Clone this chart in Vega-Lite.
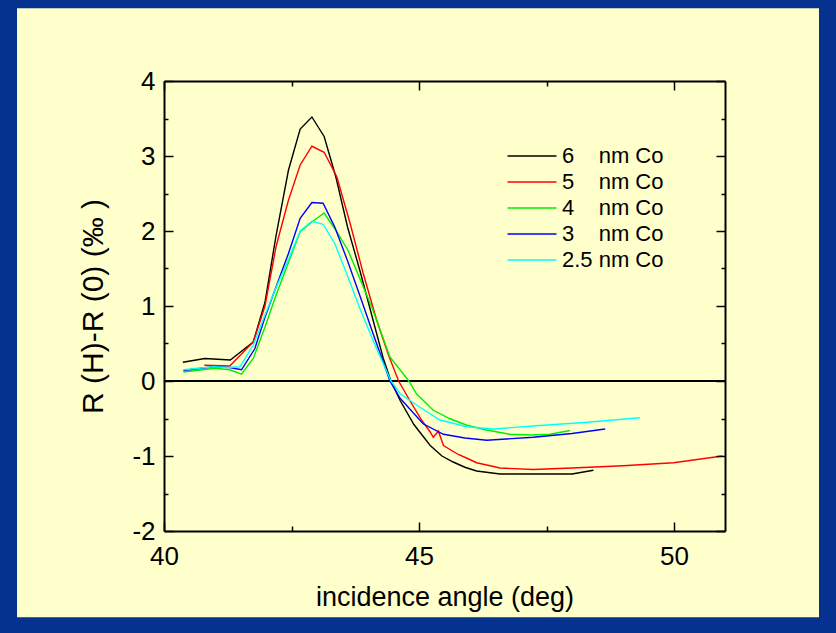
{
  "$schema": "https://vega.github.io/schema/vega-lite/v6.json",
  "width": 561,
  "height": 450,
  "autosize": "none",
  "padding": {"left": 164, "top": 81, "right": 111, "bottom": 102},
  "background": "#05318F",
  "config": {
    "view": {"stroke": null},
    "font": "Liberation Sans",
    "axis": {
      "grid": false,
      "domainColor": "#000000",
      "domainWidth": 2,
      "tickColor": "#000000",
      "tickWidth": 1.5,
      "labelColor": "#000000",
      "titleColor": "#000000",
      "labelFont": "Liberation Sans",
      "titleFont": "Liberation Sans",
      "labelFontSize": 26,
      "titleFontSize": 27,
      "titleFontWeight": "normal",
      "labelFlush": false
    }
  },
  "datasets": {
    "curves": [
      {"film": "6", "angle": 40.37, "dR": 0.25},
      {"film": "6", "angle": 40.8, "dR": 0.3},
      {"film": "6", "angle": 41.3, "dR": 0.28},
      {"film": "6", "angle": 41.75, "dR": 0.52},
      {"film": "6", "angle": 41.98, "dR": 1.05},
      {"film": "6", "angle": 42.2, "dR": 1.95},
      {"film": "6", "angle": 42.44, "dR": 2.81},
      {"film": "6", "angle": 42.67, "dR": 3.36},
      {"film": "6", "angle": 42.9, "dR": 3.52},
      {"film": "6", "angle": 43.14, "dR": 3.26},
      {"film": "6", "angle": 43.37, "dR": 2.72},
      {"film": "6", "angle": 43.6, "dR": 2.05},
      {"film": "6", "angle": 43.85, "dR": 1.45},
      {"film": "6", "angle": 44.1, "dR": 0.81},
      {"film": "6", "angle": 44.3, "dR": 0.3},
      {"film": "6", "angle": 44.45, "dR": 0.0},
      {"film": "6", "angle": 44.63, "dR": -0.26},
      {"film": "6", "angle": 44.9, "dR": -0.58},
      {"film": "6", "angle": 45.22, "dR": -0.86},
      {"film": "6", "angle": 45.45, "dR": -1.0},
      {"film": "6", "angle": 45.67, "dR": -1.08},
      {"film": "6", "angle": 45.9, "dR": -1.15},
      {"film": "6", "angle": 46.13, "dR": -1.2},
      {"film": "6", "angle": 46.59, "dR": -1.24},
      {"film": "6", "angle": 47.2, "dR": -1.24},
      {"film": "6", "angle": 48.0, "dR": -1.24},
      {"film": "6", "angle": 48.42, "dR": -1.19},

      {"film": "5", "angle": 40.79, "dR": 0.21},
      {"film": "5", "angle": 41.29, "dR": 0.2},
      {"film": "5", "angle": 41.75, "dR": 0.52},
      {"film": "5", "angle": 41.98, "dR": 1.0},
      {"film": "5", "angle": 42.2, "dR": 1.8},
      {"film": "5", "angle": 42.44, "dR": 2.41},
      {"film": "5", "angle": 42.67, "dR": 2.88},
      {"film": "5", "angle": 42.9, "dR": 3.13},
      {"film": "5", "angle": 43.14, "dR": 3.05},
      {"film": "5", "angle": 43.39, "dR": 2.72},
      {"film": "5", "angle": 43.65, "dR": 2.1},
      {"film": "5", "angle": 43.9, "dR": 1.45},
      {"film": "5", "angle": 44.17, "dR": 0.81},
      {"film": "5", "angle": 44.4, "dR": 0.35},
      {"film": "5", "angle": 44.6, "dR": 0.0},
      {"film": "5", "angle": 44.82, "dR": -0.26},
      {"film": "5", "angle": 45.05, "dR": -0.52},
      {"film": "5", "angle": 45.22, "dR": -0.68},
      {"film": "5", "angle": 45.28, "dR": -0.75},
      {"film": "5", "angle": 45.38, "dR": -0.67},
      {"film": "5", "angle": 45.48, "dR": -0.86},
      {"film": "5", "angle": 45.77, "dR": -0.98},
      {"film": "5", "angle": 45.94, "dR": -1.03},
      {"film": "5", "angle": 46.13, "dR": -1.09},
      {"film": "5", "angle": 46.59, "dR": -1.16},
      {"film": "5", "angle": 47.24, "dR": -1.18},
      {"film": "5", "angle": 48.0, "dR": -1.16},
      {"film": "5", "angle": 49.0, "dR": -1.13},
      {"film": "5", "angle": 49.99, "dR": -1.09},
      {"film": "5", "angle": 50.95, "dR": -1.0},

      {"film": "4", "angle": 40.38, "dR": 0.12},
      {"film": "4", "angle": 41.0, "dR": 0.17},
      {"film": "4", "angle": 41.29, "dR": 0.15},
      {"film": "4", "angle": 41.52, "dR": 0.09},
      {"film": "4", "angle": 41.75, "dR": 0.3},
      {"film": "4", "angle": 41.98, "dR": 0.72},
      {"film": "4", "angle": 42.2, "dR": 1.15},
      {"film": "4", "angle": 42.44, "dR": 1.58},
      {"film": "4", "angle": 42.67, "dR": 1.99},
      {"film": "4", "angle": 42.9, "dR": 2.12},
      {"film": "4", "angle": 43.14, "dR": 2.24},
      {"film": "4", "angle": 43.37, "dR": 2.01},
      {"film": "4", "angle": 43.61, "dR": 1.74},
      {"film": "4", "angle": 43.85, "dR": 1.35},
      {"film": "4", "angle": 44.1, "dR": 0.94},
      {"film": "4", "angle": 44.43, "dR": 0.32},
      {"film": "4", "angle": 44.8, "dR": 0.0},
      {"film": "4", "angle": 44.95, "dR": -0.17},
      {"film": "4", "angle": 45.28, "dR": -0.39},
      {"film": "4", "angle": 45.6, "dR": -0.5},
      {"film": "4", "angle": 45.94, "dR": -0.59},
      {"film": "4", "angle": 46.3, "dR": -0.65},
      {"film": "4", "angle": 46.78, "dR": -0.71},
      {"film": "4", "angle": 47.2, "dR": -0.72},
      {"film": "4", "angle": 47.57, "dR": -0.71},
      {"film": "4", "angle": 47.96, "dR": -0.66},

      {"film": "3", "angle": 40.38, "dR": 0.14},
      {"film": "3", "angle": 40.97, "dR": 0.19},
      {"film": "3", "angle": 41.29, "dR": 0.18},
      {"film": "3", "angle": 41.52, "dR": 0.15},
      {"film": "3", "angle": 41.78, "dR": 0.43},
      {"film": "3", "angle": 41.98, "dR": 0.85},
      {"film": "3", "angle": 42.2, "dR": 1.26},
      {"film": "3", "angle": 42.44, "dR": 1.7},
      {"film": "3", "angle": 42.67, "dR": 2.17},
      {"film": "3", "angle": 42.9, "dR": 2.38},
      {"film": "3", "angle": 43.12, "dR": 2.37},
      {"film": "3", "angle": 43.35, "dR": 2.05},
      {"film": "3", "angle": 43.6, "dR": 1.6},
      {"film": "3", "angle": 43.85, "dR": 1.12},
      {"film": "3", "angle": 44.1, "dR": 0.63},
      {"film": "3", "angle": 44.43, "dR": 0.0},
      {"film": "3", "angle": 44.63, "dR": -0.23},
      {"film": "3", "angle": 45.08, "dR": -0.57},
      {"film": "3", "angle": 45.48, "dR": -0.71},
      {"film": "3", "angle": 45.9, "dR": -0.76},
      {"film": "3", "angle": 46.33, "dR": -0.79},
      {"film": "3", "angle": 47.24, "dR": -0.75},
      {"film": "3", "angle": 48.0, "dR": -0.7},
      {"film": "3", "angle": 48.65, "dR": -0.64},

      {"film": "2.5", "angle": 40.38, "dR": 0.15},
      {"film": "2.5", "angle": 40.97, "dR": 0.19},
      {"film": "2.5", "angle": 41.23, "dR": 0.18},
      {"film": "2.5", "angle": 41.49, "dR": 0.19},
      {"film": "2.5", "angle": 41.75, "dR": 0.48},
      {"film": "2.5", "angle": 41.98, "dR": 0.88},
      {"film": "2.5", "angle": 42.2, "dR": 1.25},
      {"film": "2.5", "angle": 42.44, "dR": 1.62},
      {"film": "2.5", "angle": 42.67, "dR": 2.0},
      {"film": "2.5", "angle": 42.9, "dR": 2.13},
      {"film": "2.5", "angle": 43.12, "dR": 2.09},
      {"film": "2.5", "angle": 43.35, "dR": 1.83},
      {"film": "2.5", "angle": 43.6, "dR": 1.4},
      {"film": "2.5", "angle": 43.85, "dR": 0.95},
      {"film": "2.5", "angle": 44.1, "dR": 0.54},
      {"film": "2.5", "angle": 44.45, "dR": 0.0},
      {"film": "2.5", "angle": 44.63, "dR": -0.17},
      {"film": "2.5", "angle": 45.02, "dR": -0.35},
      {"film": "2.5", "angle": 45.41, "dR": -0.52},
      {"film": "2.5", "angle": 45.94, "dR": -0.61},
      {"film": "2.5", "angle": 46.46, "dR": -0.64},
      {"film": "2.5", "angle": 47.24, "dR": -0.6},
      {"film": "2.5", "angle": 48.3, "dR": -0.55},
      {"film": "2.5", "angle": 49.33, "dR": -0.49}
    ]
  },
  "layer": [
    {
      "data": {"values": [{}]},
      "mark": {"type": "rect", "fill": "#FFFFCC", "clip": false},
      "encoding": {
        "x": {
          "datum": 37.118,
          "type": "quantitative",
          "scale": {"domain": [40, 51], "nice": false, "zero": false},
          "axis": {
            "orient": "top",
            "zindex": 1,
            "title": null,
            "values": [40, 42.5, 45, 47.5, 50],
            "labels": false,
            "tickSize": {"condition": {"test": "datum.value % 5 === 0", "value": -9}, "value": -5}
          }
        },
        "x2": {"datum": 52.843},
        "y": {
          "datum": 4.969,
          "type": "quantitative",
          "scale": {"domain": [-2, 4], "nice": false, "zero": false},
          "axis": {
            "orient": "right",
            "zindex": 1,
            "title": null,
            "values": [-2, -1.5, -1, -0.5, 0, 0.5, 1, 1.5, 2, 2.5, 3, 3.5, 4],
            "labels": false,
            "tickSize": {"condition": {"test": "datum.value % 1 === 0", "value": -9}, "value": -4}
          }
        },
        "y2": {"datum": -3.151}
      }
    },
    {
      "data": {"values": [{}]},
      "mark": {"type": "rule", "color": "#000000", "strokeWidth": 2},
      "encoding": {"y": {"datum": 0, "type": "quantitative", "axis": null}}
    },
    {
      "data": {"name": "curves"},
      "mark": {"type": "line", "strokeWidth": 1.4, "clip": true},
      "encoding": {
        "x": {
          "field": "angle",
          "type": "quantitative",
          "axis": {
            "orient": "bottom",
            "zindex": 1,
            "title": "incidence angle (deg)",
            "values": [40, 42.5, 45, 47.5, 50],
            "labelExpr": "datum.value % 5 === 0 ? '' + datum.value : ''",
            "labelPadding": 21,
            "titlePadding": 15,
            "tickSize": {"condition": {"test": "datum.value % 5 === 0", "value": -9}, "value": -5}
          }
        },
        "y": {
          "field": "dR",
          "type": "quantitative",
          "axis": {
            "orient": "left",
            "zindex": 1,
            "title": "R (H)-R (0) (‰ )",
            "titleFontSize": 30,
            "values": [-2, -1.5, -1, -0.5, 0, 0.5, 1, 1.5, 2, 2.5, 3, 3.5, 4],
            "labelExpr": "datum.value % 1 === 0 ? '' + datum.value : ''",
            "labelPadding": 18,
            "titlePadding": 23,
            "tickSize": {"condition": {"test": "datum.value % 1 === 0", "value": -9}, "value": -4}
          }
        },
        "color": {
          "field": "film",
          "type": "nominal",
          "sort": ["6", "5", "4", "3", "2.5"],
          "scale": {
            "domain": ["6", "5", "4", "3", "2.5"],
            "range": ["#000000", "#FF0000", "#00EE00", "#0000FF", "#00FFFF"]
          },
          "legend": {
            "orient": "none",
            "legendX": 357,
            "legendY": 64,
            "title": null,
            "padding": 0,
            "symbolType": "M-4.9,0H4.9",
            "symbolSize": 100,
            "symbolStrokeWidth": 1.4,
            "labelFontSize": 22,
            "labelFont": "Liberation Sans",
            "labelColor": "#000000",
            "labelOffset": 19,
            "rowPadding": 4,
            "labelExpr": "datum.label == '2.5' ? '2.5 nm Co' : datum.label + '\u00a0\u00a0\u00a0\u00a0nm Co'"
          }
        }
      }
    }
  ]
}
